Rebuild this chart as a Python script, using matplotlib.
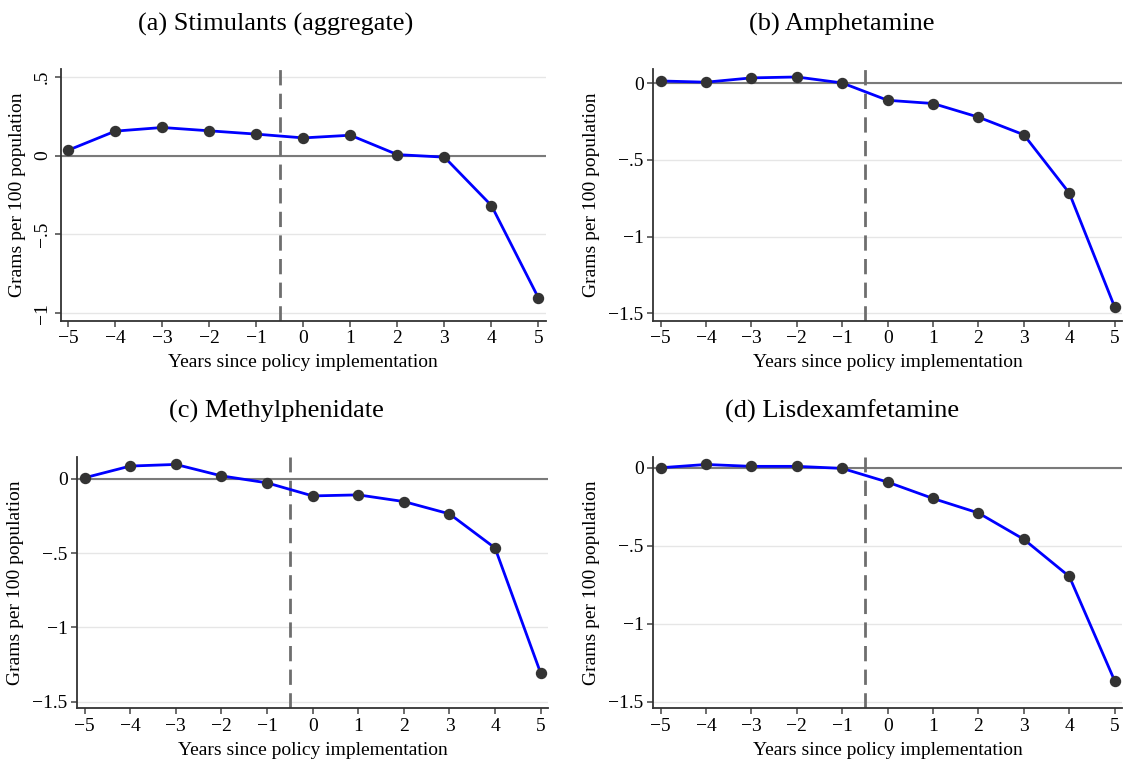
import matplotlib
matplotlib.use("Agg")
import matplotlib.pyplot as plt
import numpy as np

plt.rcParams['font.family'] = ['Liberation Serif', 'DejaVu Serif']

years = [-5, -4, -3, -2, -1, 0, 1, 2, 3, 4, 5]

stimulants = [0.034, 0.155, 0.178, 0.157, 0.136, 0.112, 0.129, 0.006, -0.010, -0.317, -0.903]
amphetamine = [0.015, 0.007, 0.035, 0.041, 0.002, -0.111, -0.132, -0.221, -0.336, -0.716, -1.460]
methylphenidate = [0.007, 0.086, 0.097, 0.020, -0.027, -0.115, -0.108, -0.153, -0.236, -0.466, -1.309]
lisdexamfetamine = [0.000, 0.021, 0.009, 0.009, -0.004, -0.092, -0.197, -0.290, -0.459, -0.697, -1.367]

titles = ["(a) Stimulants (aggregate)", "(b) Amphetamine",
          "(c) Methylphenidate", "(d) Lisdexamfetamine"]
series = [stimulants, amphetamine, methylphenidate, lisdexamfetamine]

yticks_a = [0.5, 0, -0.5, -1]
yticklabels_a = [".5", "0", "\u2212.5", "\u22121"]
yticks_b = [0, -0.5, -1, -1.5]
yticklabels_b = ["0", "\u2212.5", "\u22121", "\u22121.5"]
xticklabels = [("\u2212%d" % -v) if v < 0 else str(v) for v in years]

policy_x = -0.5
xlabel = "Years since policy implementation"
ylabel = "Grams per 100 population"

W, H = 1125, 764
fig = plt.figure(figsize=(W / 100, H / 100), dpi=100)

# axes boxes in pixels: left, right, top, bottom
boxes = [
    (60.7, 546, 69.3, 320.7),
    (653.3, 1122, 69.3, 320.7),
    (77.3, 548, 457.3, 708.3),
    (653.3, 1122, 457.3, 708.3),
]
ylims = [(-1.047, 0.547), (-1.548, 0.091), (-1.545, 0.145), (-1.542, 0.067)]
title_pos = [(276, 24), (842, 24), (276, 411), (842, 411)]

for i in range(4):
    l, r, t, b = boxes[i]
    ax = fig.add_axes([l / W, 1 - b / H, (r - l) / W, (b - t) / H])
    ax.set_xlim(-5.16, 5.16)
    ax.set_ylim(*ylims[i])
    if i == 0:
        yt, ytl = yticks_a, yticklabels_a
    else:
        yt, ytl = yticks_b, yticklabels_b
    ax.set_yticks(yt)
    ax.set_yticklabels(ytl, fontsize=14)
    if i == 0:
        for lab in ax.get_yticklabels():
            lab.set_rotation(90)
            lab.set_va('center')
    ax.set_xticks(years)
    ax.set_xticklabels(xticklabels, fontsize=14)
    for yv in yt:
        ax.axhline(yv, color='#e6e6e6', lw=1.0, zorder=0)
    ax.axhline(0, color='#7a7a7a', lw=1.5, zorder=1)
    ax.axvline(policy_x, color='#6e6e6e', lw=2.0, ls=(0, (5.5, 3)), zorder=1)
    ax.plot(years, series[i], color='#0000ff', lw=2.0, zorder=2)
    ax.plot(years, series[i], 'o', color='#333333', ms=7.2, zorder=3)
    for s in ['top', 'right']:
        ax.spines[s].set_visible(False)
    for s in ['left', 'bottom']:
        ax.spines[s].set_color('#333333')
        ax.spines[s].set_linewidth(1.3)
    ax.tick_params(axis='both', direction='out', length=4, width=1.1, color='#444444', pad=3)
    ax.set_xlabel(xlabel, fontsize=14, labelpad=5)
    ax.set_ylabel(ylabel, fontsize=14, labelpad=6)
    fig.text(title_pos[i][0] / W, 1 - title_pos[i][1] / H, titles[i],
             fontsize=19, ha='center', va='center')

fig.savefig("out.png", dpi=100, facecolor='white')
